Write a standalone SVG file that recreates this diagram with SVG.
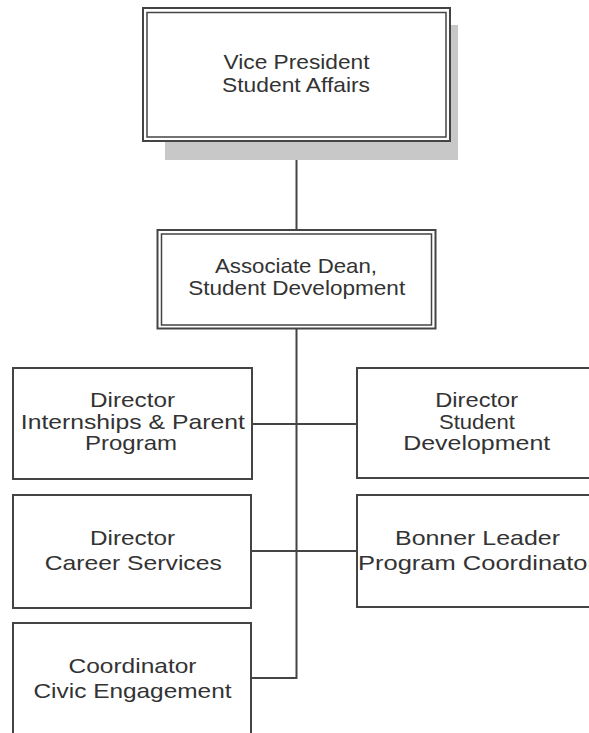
<svg xmlns="http://www.w3.org/2000/svg" width="589" height="733" viewBox="0 0 589 733">
<style>
.box{fill:#ffffff;stroke:#444444;stroke-width:2}
.inner{fill:none;stroke:#444444;stroke-width:1.5}
.shadow{fill:#c8c8c8}
.lbl{font-family:"Liberation Sans",Arial,sans-serif;font-size:21px;fill:#333333;text-anchor:middle}
.conn{stroke:#444444;stroke-width:2;fill:none}
</style>
<rect width="589" height="733" fill="#ffffff"/>
<g id="connectors">
<line class="conn" x1="296.5" y1="141" x2="296.5" y2="230"/>
<polyline class="conn" points="296.5,328 296.5,678 251,678"/>
<line class="conn" x1="252" y1="424" x2="357" y2="424"/>
<line class="conn" x1="251" y1="551" x2="357" y2="551"/>
</g>
<g id="vp">
<rect class="shadow" x="165" y="25" width="293" height="135"/>
<rect class="box" x="143" y="8" width="307" height="133"/>
<rect class="inner" x="147" y="12.5" width="299" height="124.5"/>
<text class="lbl" x="296.5" y="69" textLength="146" lengthAdjust="spacingAndGlyphs">Vice President</text>
<text class="lbl" x="296" y="92" textLength="148" lengthAdjust="spacingAndGlyphs">Student Affairs</text>
</g>
<g id="assocdean">
<rect class="box" x="157.5" y="230" width="278" height="98.5"/>
<rect class="inner" x="161.5" y="234" width="270" height="91"/>
<text class="lbl" x="296" y="273" textLength="162" lengthAdjust="spacingAndGlyphs">Associate Dean,</text>
<text class="lbl" x="296.7" y="295" textLength="217" lengthAdjust="spacingAndGlyphs">Student Development</text>
</g>
<g id="internships">
<rect class="box" x="13" y="368" width="239" height="111"/>
<text class="lbl" x="132.5" y="407" textLength="85" lengthAdjust="spacingAndGlyphs">Director</text>
<text class="lbl" x="132.8" y="428.5" textLength="224" lengthAdjust="spacingAndGlyphs">Internships &amp; Parent</text>
<text class="lbl" x="131" y="450" textLength="92" lengthAdjust="spacingAndGlyphs">Program</text>
</g>
<g id="studentdev">
<rect class="box" x="357" y="368" width="245" height="110"/>
<text class="lbl" x="476.7" y="407" textLength="83" lengthAdjust="spacingAndGlyphs">Director</text>
<text class="lbl" x="477" y="428.5" textLength="76" lengthAdjust="spacingAndGlyphs">Student</text>
<text class="lbl" x="476.7" y="450" textLength="147" lengthAdjust="spacingAndGlyphs">Development</text>
</g>
<g id="career">
<rect class="box" x="13" y="495" width="238" height="113"/>
<text class="lbl" x="132.5" y="545" textLength="85" lengthAdjust="spacingAndGlyphs">Director</text>
<text class="lbl" x="133.3" y="570" textLength="177" lengthAdjust="spacingAndGlyphs">Career Services</text>
</g>
<g id="bonner">
<rect class="box" x="357" y="495" width="245" height="112"/>
<text class="lbl" x="477.5" y="545" textLength="165" lengthAdjust="spacingAndGlyphs">Bonner Leader</text>
<text class="lbl" x="477" y="570" textLength="238" lengthAdjust="spacingAndGlyphs">Program Coordinator</text>
</g>
<g id="civic">
<rect class="box" x="13" y="623" width="238" height="130"/>
<text class="lbl" x="132.5" y="673" textLength="128" lengthAdjust="spacingAndGlyphs">Coordinator</text>
<text class="lbl" x="132.5" y="698" textLength="198" lengthAdjust="spacingAndGlyphs">Civic Engagement</text>
</g>
</svg>
